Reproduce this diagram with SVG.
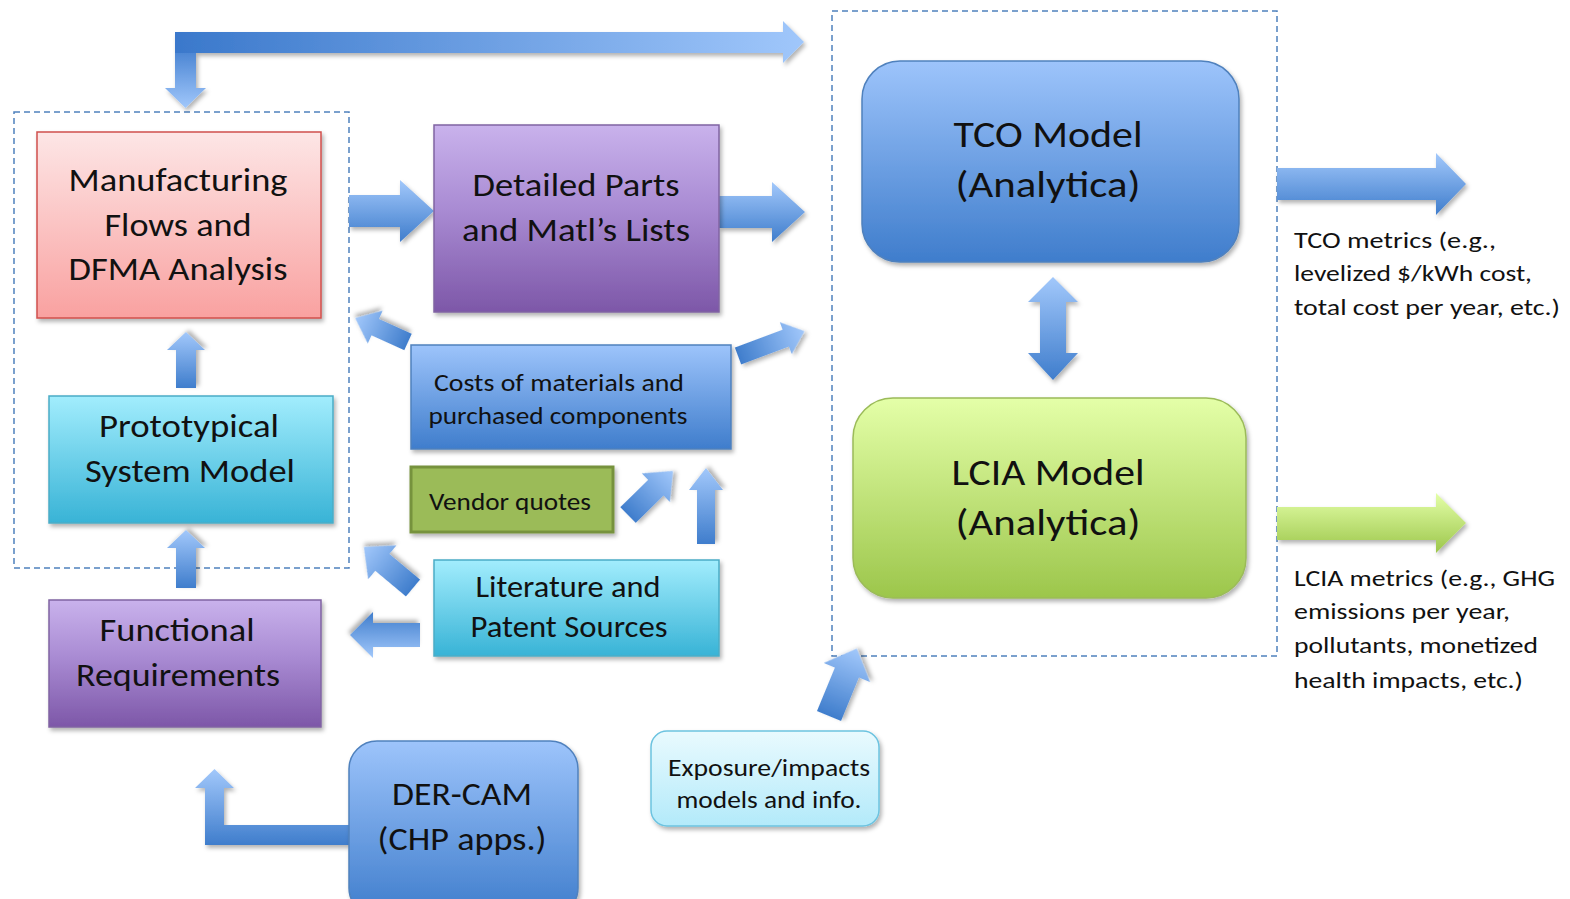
<svg xmlns="http://www.w3.org/2000/svg" width="1570" height="899" viewBox="0 0 1570 899">
<defs>
<style>
.t{font-family:Carlito,Lato,"Liberation Sans",sans-serif;fill:#111;text-anchor:middle}
.m{font-family:Carlito,Lato,"Liberation Sans",sans-serif;fill:#111}
.dash{fill:none;stroke:#4f81bd;stroke-width:1.5;stroke-dasharray:6 4}
.ar{fill:url(#gAcross)}
.al{fill:url(#gAlong)}
</style>
<filter id="sh" x="-10%" y="-10%" width="125%" height="130%"><feDropShadow dx="2" dy="3" stdDeviation="2" flood-color="#000" flood-opacity="0.3"/></filter>
<linearGradient id="gRed" x1="0" y1="0" x2="0" y2="1"><stop offset="0" stop-color="#fde6e6"/><stop offset="1" stop-color="#f9a1a0"/></linearGradient>
<linearGradient id="gPur" x1="0" y1="0" x2="0" y2="1"><stop offset="0" stop-color="#c9b2ec"/><stop offset="0.45" stop-color="#a98bd3"/><stop offset="1" stop-color="#7d57a8"/></linearGradient>
<linearGradient id="gCyan" x1="0" y1="0" x2="0" y2="1"><stop offset="0" stop-color="#a2edfd"/><stop offset="1" stop-color="#38b3d6"/></linearGradient>
<linearGradient id="gBlue" x1="0" y1="0" x2="0" y2="1"><stop offset="0" stop-color="#9dc4fb"/><stop offset="1" stop-color="#3f7dcc"/></linearGradient>
<linearGradient id="gGreen" x1="0" y1="0" x2="0" y2="1"><stop offset="0" stop-color="#e4ffa8"/><stop offset="1" stop-color="#9cc64b"/></linearGradient>
<linearGradient id="gExp" x1="0" y1="0" x2="0" y2="1"><stop offset="0" stop-color="#e9fafe"/><stop offset="1" stop-color="#b3eafa"/></linearGradient>
<linearGradient id="gAcross" x1="0" y1="0" x2="0" y2="1"><stop offset="0" stop-color="#a2c8fb"/><stop offset="1" stop-color="#3f7dcc"/></linearGradient>
<linearGradient id="gAlong" x1="0" y1="0" x2="1" y2="0"><stop offset="0" stop-color="#3f7dcc"/><stop offset="1" stop-color="#a2c8fb"/></linearGradient>
<linearGradient id="gTop" gradientUnits="userSpaceOnUse" x1="175" y1="0" x2="804" y2="0"><stop offset="0" stop-color="#3a78cb"/><stop offset="1" stop-color="#a0c7fb"/></linearGradient>
<linearGradient id="gDown" gradientUnits="userSpaceOnUse" x1="0" y1="40" x2="0" y2="108"><stop offset="0" stop-color="#3a78cb"/><stop offset="1" stop-color="#a0c7fb"/></linearGradient>
<linearGradient id="gGArrow" x1="0" y1="0" x2="0" y2="1"><stop offset="0" stop-color="#e4ffa8"/><stop offset="1" stop-color="#9cc64b"/></linearGradient>
</defs>
<rect width="1570" height="899" fill="#fff"/>

<g id="groups">
<rect class="dash" x="14" y="112" width="335" height="456"/>
<rect class="dash" x="832" y="11" width="445" height="645"/>
</g>

<g id="connectors">
<g filter="url(#sh)">
<path fill="url(#gDown)" d="M175,32 L196,32 L196,88 L206,88 L185.5,108 L165,88 L175,88 Z"/>
<path fill="url(#gTop)" d="M175,32 L783,32 L783,21 L804,42 L783,63 L783,53 L196,53 L175,53 Z"/>
</g>
<path class="ar" filter="url(#sh)" transform="translate(349,211)" d="M0,-16 L51,-16 L51,-31 L85,0 L51,31 L51,16 L0,16 Z"/>
<path class="ar" filter="url(#sh)" transform="translate(719,212)" d="M0,-16 L53,-16 L53,-30 L86,0 L53,30 L53,16 L0,16 Z"/>
<path class="al" filter="url(#sh)" transform="translate(408,342) rotate(204.4)" d="M0,-9 L36,-9 L36,-18 L58,0 L36,18 L36,9 L0,9 Z"/>
<path class="al" filter="url(#sh)" transform="translate(738,356) rotate(-20.5)" d="M0,-9 L51,-9 L51,-17 L71,0 L51,17 L51,9 L0,9 Z"/>
<path class="al" filter="url(#sh)" transform="translate(628,515) rotate(-44.4)" d="M0,-11 L39,-11 L39,-20 L63,0 L39,20 L39,11 L0,11 Z"/>
<path class="al" filter="url(#sh)" transform="translate(706,544) rotate(-90)" d="M0,-9 L54,-9 L54,-17 L76,0 L54,17 L54,9 L0,9 Z"/>
<path class="al" filter="url(#sh)" transform="translate(413,588) rotate(219.9)" d="M0,-11 L40,-11 L40,-22 L64,0 L40,22 L40,11 L0,11 Z"/>
<path class="ar" filter="url(#sh)" transform="translate(420,635) rotate(180)" d="M0,-12 L47,-12 L47,-23 L70,0 L47,23 L47,12 L0,12 Z"/>
<path class="al" filter="url(#sh)" transform="translate(186,388) rotate(-90)" d="M0,-10 L38,-10 L38,-19 L56,0 L38,19 L38,10 L0,10 Z"/>
<path class="al" filter="url(#sh)" transform="translate(186,588) rotate(-90)" d="M0,-10 L40,-10 L40,-19 L58,0 L40,19 L40,10 L0,10 Z"/>
<path class="ar" filter="url(#sh)" d="M349,825 L224,825 L224,788 L234,788 L214.5,769 L195,788 L205,788 L205,845 L349,845 Z"/>
<path class="al" filter="url(#sh)" transform="translate(829,716) rotate(-67.6)" d="M0,-13 L47,-13 L47,-25 L73,0 L47,25 L47,13 L0,13 Z"/>
<path fill="url(#gAcross)" filter="url(#sh)" d="M1053,277 L1078,302 L1066,302 L1066,353 L1078,353 L1053,380 L1028,353 L1040,353 L1040,302 L1028,302 Z"/>
<path fill="url(#gAcross)" filter="url(#sh)" d="M1277,168 L1436,168 L1436,153 L1466,184 L1436,215 L1436,200 L1277,200 Z"/>
<path fill="url(#gGArrow)" filter="url(#sh)" d="M1277,507 L1436,507 L1436,493 L1466,523 L1436,553 L1436,540 L1277,540 Z"/>
</g>

<g id="manufacturing">
<rect x="37" y="132" width="284" height="186" fill="url(#gRed)" stroke="#d0504d" stroke-width="1.5" filter="url(#sh)"/>
<text class="t" x="178" y="191" font-size="32" textLength="219" lengthAdjust="spacingAndGlyphs">Manufacturing</text>
<text class="t" x="178" y="236" font-size="32" textLength="147" lengthAdjust="spacingAndGlyphs">Flows and</text>
<text class="t" x="178" y="280" font-size="32" textLength="219" lengthAdjust="spacingAndGlyphs">DFMA Analysis</text>
</g>

<g id="detailed-parts">
<rect x="434" y="125" width="285" height="187" fill="url(#gPur)" stroke="#8064a2" stroke-width="1.5" filter="url(#sh)"/>
<text class="t" x="576" y="196" font-size="32" textLength="207" lengthAdjust="spacingAndGlyphs">Detailed Parts</text>
<text class="t" x="576" y="241" font-size="32" textLength="228" lengthAdjust="spacingAndGlyphs">and Matl’s Lists</text>
</g>

<g id="prototypical">
<rect x="49" y="396" width="284" height="127" fill="url(#gCyan)" stroke="#4bacc6" stroke-width="1.5" filter="url(#sh)"/>
<text class="t" x="189" y="437" font-size="32" textLength="180" lengthAdjust="spacingAndGlyphs">Prototypical</text>
<text class="t" x="190" y="482" font-size="32" textLength="210" lengthAdjust="spacingAndGlyphs">System Model</text>
</g>

<g id="functional">
<rect x="49" y="600" width="272" height="127" fill="url(#gPur)" stroke="#8064a2" stroke-width="1.5" filter="url(#sh)"/>
<text class="t" x="177" y="641" font-size="32" textLength="155" lengthAdjust="spacingAndGlyphs">Functional</text>
<text class="t" x="178" y="686" font-size="32" textLength="204" lengthAdjust="spacingAndGlyphs">Requirements</text>
</g>

<g id="costs">
<rect x="411" y="345" width="320" height="104" fill="url(#gBlue)" stroke="#4f81bd" stroke-width="1.5" filter="url(#sh)"/>
<text class="t" x="559" y="391" font-size="23.5" textLength="250" lengthAdjust="spacingAndGlyphs">Costs of materials and</text>
<text class="t" x="558" y="424" font-size="23.5" textLength="259" lengthAdjust="spacingAndGlyphs">purchased components</text>
</g>

<g id="vendor">
<rect x="411" y="467" width="202" height="65" fill="#9bbb59" stroke="#76923c" stroke-width="3" filter="url(#sh)"/>
<text class="t" x="510" y="510" font-size="23.5" textLength="162" lengthAdjust="spacingAndGlyphs">Vendor quotes</text>
</g>

<g id="literature">
<rect x="434" y="560" width="285" height="96" fill="url(#gCyan)" stroke="#4bacc6" stroke-width="1.5" filter="url(#sh)"/>
<text class="t" x="568" y="597" font-size="30" textLength="185" lengthAdjust="spacingAndGlyphs">Literature and</text>
<text class="t" x="569" y="637" font-size="30" textLength="197" lengthAdjust="spacingAndGlyphs">Patent Sources</text>
</g>

<g id="dercam">
<rect x="349" y="741" width="229" height="175" rx="28" fill="url(#gBlue)" stroke="#4f81bd" stroke-width="1.5" filter="url(#sh)"/>
<text class="t" x="462" y="805" font-size="32" textLength="140" lengthAdjust="spacingAndGlyphs">DER-CAM</text>
<text class="t" x="462" y="850" font-size="32" textLength="169" lengthAdjust="spacingAndGlyphs">(CHP apps.)</text>
</g>

<g id="exposure">
<rect x="651" y="731" width="228" height="95" rx="16" fill="url(#gExp)" stroke="#6cc3e0" stroke-width="1.5" filter="url(#sh)"/>
<text class="t" x="769" y="776" font-size="23.5" textLength="202" lengthAdjust="spacingAndGlyphs">Exposure/impacts</text>
<text class="t" x="769" y="808" font-size="23.5" textLength="185" lengthAdjust="spacingAndGlyphs">models and info.</text>
</g>

<g id="tco">
<rect x="862" y="61" width="377" height="201" rx="38" fill="url(#gBlue)" stroke="#4f81bd" stroke-width="1.5" filter="url(#sh)"/>
<text class="t" x="1048" y="147" font-size="37" textLength="189" lengthAdjust="spacingAndGlyphs">TCO Model</text>
<text class="t" x="1048" y="197" font-size="37" textLength="185" lengthAdjust="spacingAndGlyphs">(Analytica)</text>
</g>

<g id="lcia">
<rect x="853" y="398" width="393" height="200" rx="40" fill="url(#gGreen)" stroke="#9bbb59" stroke-width="1.5" filter="url(#sh)"/>
<text class="t" x="1048" y="485" font-size="37" textLength="193" lengthAdjust="spacingAndGlyphs">LCIA Model</text>
<text class="t" x="1048" y="535" font-size="37" textLength="185" lengthAdjust="spacingAndGlyphs">(Analytica)</text>
</g>

<g id="tco-metrics">
<text class="m" x="1294" y="248" font-size="23" textLength="202" lengthAdjust="spacingAndGlyphs">TCO metrics (e.g.,</text>
<text class="m" x="1294" y="281" font-size="23" textLength="238" lengthAdjust="spacingAndGlyphs">levelized $/kWh cost,</text>
<text class="m" x="1294" y="315" font-size="23" textLength="266" lengthAdjust="spacingAndGlyphs">total cost per year, etc.)</text>
</g>

<g id="lcia-metrics">
<text class="m" x="1294" y="586" font-size="23" textLength="261" lengthAdjust="spacingAndGlyphs">LCIA metrics (e.g., GHG</text>
<text class="m" x="1294" y="619" font-size="23" textLength="216" lengthAdjust="spacingAndGlyphs">emissions per year,</text>
<text class="m" x="1294" y="653" font-size="23" textLength="244" lengthAdjust="spacingAndGlyphs">pollutants, monetized</text>
<text class="m" x="1294" y="688" font-size="23" textLength="229" lengthAdjust="spacingAndGlyphs">health impacts, etc.)</text>
</g>
</svg>
